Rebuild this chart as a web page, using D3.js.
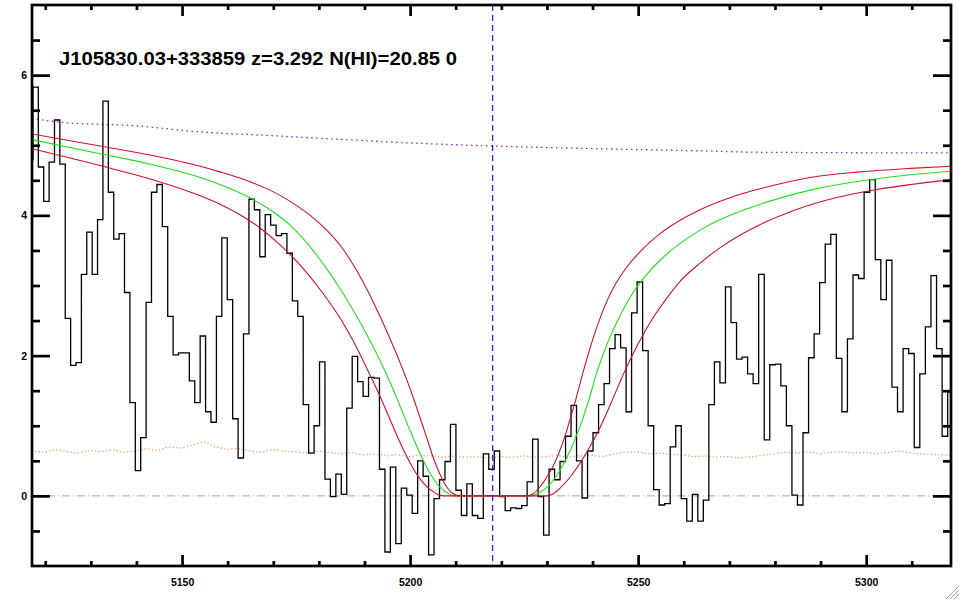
<!DOCTYPE html>
<html><head><meta charset="utf-8">
<script src="https://cdn.jsdelivr.net/npm/d3@7"></script>
<style>body{margin:0;background:#fff}svg{display:block}</style>
</head><body><svg id="c" width="960" height="600"></svg>
<script>
// ---------- data ----------
const titleText = "J105830.03+333859 z=3.292 N(HI)=20.85 0";
const xMajorTicks = [5150, 5200, 5250, 5300];
const xMinorTicks = [5120,5130,5140,5160,5170,5180,5190,5210,5220,5230,5240,5260,5270,5280,5290,5310];
const yMajorTicks = [0, 2, 4, 6];
const yMinorTicks = [-0.5,0.5,1,1.5,2.5,3,3.5,4.5,5,5.5,6.5];
const lyaWave = 5218.1;

// spectrum pixel wavelengths (Angstrom)
const wave = [5116.72,
5117.90,5119.08,5120.26,5121.44,5122.62,5123.80,5124.98,5126.16,5127.34,5128.52,
5129.70,5130.88,5132.06,5133.24,5134.43,5135.61,5136.79,5137.97,5139.16,5140.34,
5141.52,5142.71,5143.89,5145.08,5146.26,5147.45,5148.63,5149.82,5151.00,5152.19,
5153.38,5154.56,5155.75,5156.94,5158.13,5159.31,5160.50,5161.69,5162.88,5164.07,
5165.26,5166.45,5167.64,5168.83,5170.02,5171.21,5172.40,5173.59,5174.78,5175.97,
5177.16,5178.35,5179.55,5180.74,5181.93,5183.13,5184.32,5185.51,5186.71,5187.90,
5189.10,5190.29,5191.49,5192.69,5193.88,5195.08,5196.27,5197.47,5198.67,5199.86,
5201.06,5202.26,5203.46,5204.65,5205.85,5207.05,5208.25,5209.45,5210.65,5211.84,
5213.04,5214.24,5215.44,5216.65,5217.85,5219.05,5220.25,5221.45,5222.65,5223.86,
5225.06,5226.26,5227.46,5228.67,5229.87,5231.08,5232.28,5233.48,5234.69,5235.89,
5237.10,5238.31,5239.51,5240.72,5241.93,5243.13,5244.34,5245.55,5246.76,5247.96,
5249.17,5250.38,5251.59,5252.80,5254.01,5255.22,5256.43,5257.64,5258.85,5260.06,
5261.27,5262.48,5263.69,5264.90,5266.12,5267.33,5268.54,5269.75,5270.97,5272.18,
5273.39,5274.61,5275.82,5277.04,5278.25,5279.47,5280.68,5281.90,5283.11,5284.33,
5285.54,5286.76,5287.98,5289.19,5290.41,5291.63,5292.85,5294.06,5295.28,5296.50,
5297.72,5298.94,5300.16,5301.38,5302.60,5303.82,5305.04,5306.26,5307.48,5308.71,
5309.93,5311.15,5312.37,5313.59,5314.82,5316.04,5317.26,5318.49];

// spectrum flux
const flux = [4.80,
5.83,4.69,4.20,4.76,5.36,4.73,2.53,1.86,1.90,3.16,
3.76,3.16,3.94,5.63,4.33,3.66,3.74,2.90,1.33,0.36,
0.83,2.76,4.33,4.44,3.84,2.56,2.01,2.04,2.04,1.64,
1.33,2.28,1.20,1.05,2.56,3.68,2.80,1.10,0.54,2.31,
4.23,4.08,3.41,4.01,3.86,3.71,3.74,3.46,2.78,2.56,
1.30,0.61,1.00,1.91,0.24,-0.01,0.31,0.02,1.25,1.99,
1.63,1.42,1.69,1.68,0.38,-0.80,0.41,-0.68,0.11,0.01,
-0.25,0.50,0.28,-0.84,-0.04,0.23,0.49,1.02,0.08,-0.28,
0.17,-0.28,-0.32,0.60,0.38,0.64,-0.01,-0.21,-0.17,-0.18,
-0.14,0.20,0.81,-0.01,-0.56,0.38,0.23,0.49,0.85,1.29,
0.50,-0.03,0.64,0.90,1.30,1.60,2.10,2.30,2.11,1.20,
2.61,3.05,2.07,1.00,0.09,-0.13,-0.11,0.70,1.00,-0.04,
-0.36,0.02,-0.36,-0.06,1.30,1.91,1.61,2.98,2.47,1.95,
1.98,1.74,1.60,3.16,0.80,1.87,1.88,1.57,1.00,0.01,
-0.13,0.90,1.97,2.31,3.04,3.59,3.73,1.96,1.20,2.24,
3.15,3.10,4.33,4.51,3.37,2.80,3.36,1.55,1.20,2.10,
2.03,0.69,1.74,2.41,3.14,2.10,0.85,1.48];

// error array (orange dotted)
const errWave = [5117,5120,5122,5125,5127,5130,5132,5135,5137,5140,5142,5145,5147,5150,5152,5154,5155,5157,5160,5162,5165,5167,5170,5172,5175,5177,5180,5182,5185,5187,5190,5192,5195,5197,5200,5202,5205,5207,5210,5212,5215,5217,5220,5222,5225,5227,5230,5232,5235,5237,5240,5242,5245,5247,5250,5252,5255,5257,5260,5262,5265,5267,5270,5272,5275,5277,5280,5282,5285,5287,5290,5292,5295,5297,5300,5302,5305,5307,5310,5312,5315,5318.6];
const errFlux = [0.64,0.62,0.66,0.63,0.61,0.65,0.63,0.66,0.62,0.64,0.67,0.65,0.70,0.68,0.72,0.76,0.77,0.70,0.66,0.68,0.64,0.62,0.66,0.64,0.63,0.61,0.64,0.62,0.60,0.62,0.58,0.60,0.57,0.59,0.56,0.58,0.57,0.55,0.57,0.55,0.56,0.54,0.56,0.55,0.57,0.55,0.56,0.58,0.55,0.57,0.58,0.56,0.60,0.62,0.63,0.60,0.61,0.59,0.58,0.56,0.57,0.55,0.56,0.54,0.56,0.58,0.60,0.62,0.61,0.63,0.60,0.62,0.63,0.61,0.62,0.60,0.62,0.64,0.61,0.60,0.59,0.58];

// continuum (purple dotted)
const contWave = [5117.1,5124.7,5139.3,5154.0,5168.6,5183.2,5197.8,5217.5,5241.7,5263.6,5276.8,5318.6];
const contFlux = [5.38,5.32,5.28,5.19,5.14,5.09,5.04,4.99,4.95,4.92,4.90,4.89];

// model fit (green)
const fitWave = [5117.1,5132.0,5143.0,5154.0,5158.3,5164.9,5169.3,5173.7,5178.1,5181.7,5184.7,5187.6,5190.5,5193.4,5195.6,5197.1,5197.8,5200.0,5202.2,5204.4,5206.6,5208.8,5209.8,5226.3,5227.5,5230.0,5232.9,5235.8,5238.8,5240.9,5243.1,5246.1,5249.0,5251.9,5254.8,5259.2,5263.6,5268.0,5272.4,5276.8,5287.7,5298.7,5309.7,5318.6];
const fitFlux = [5.08,4.88,4.73,4.54,4.44,4.25,4.08,3.86,3.55,3.24,2.95,2.64,2.30,1.93,1.62,1.39,1.28,0.93,0.60,0.32,0.12,0.02,0.00,0.00,0.02,0.12,0.37,0.75,1.28,1.75,2.15,2.58,2.91,3.16,3.36,3.60,3.79,3.94,4.06,4.16,4.36,4.49,4.58,4.63];

// upper bound (red, narrower trough)
const hiWave = [5117.1,5132.0,5143.0,5154.0,5158.3,5164.9,5169.3,5173.7,5178.1,5181.7,5184.7,5187.6,5190.5,5193.4,5195.6,5197.8,5200.7,5202.2,5203.7,5205.1,5206.6,5208.1,5209.5,5211.0,5225.6,5227.0,5228.5,5230.0,5231.4,5233.6,5235.8,5238.0,5240.2,5242.4,5244.6,5247.5,5250.4,5254.8,5259.2,5263.6,5268.0,5272.4,5276.8,5287.7,5298.7,5309.7,5318.6];
const hiFlux = [5.16,4.99,4.86,4.70,4.62,4.48,4.36,4.20,4.00,3.79,3.57,3.29,2.95,2.56,2.24,1.90,1.40,1.11,0.82,0.54,0.30,0.12,0.03,0.00,0.00,0.03,0.13,0.27,0.43,0.78,1.25,1.78,2.26,2.66,2.97,3.26,3.48,3.74,3.93,4.08,4.20,4.30,4.38,4.54,4.62,4.67,4.70];

// lower bound (red, wider trough)
const loWave = [5117.1,5132.0,5143.0,5154.0,5158.3,5162.7,5167.1,5171.5,5175.9,5180.3,5184.7,5187.6,5190.5,5193.4,5195.6,5197.8,5200.0,5202.2,5204.4,5206.6,5207.5,5230.0,5231.4,5232.9,5235.8,5238.8,5241.7,5243.9,5246.8,5249.7,5252.6,5255.6,5259.2,5263.6,5268.0,5272.4,5276.8,5284.1,5291.4,5302.4,5309.7,5318.6];
const loFlux = [4.95,4.71,4.52,4.28,4.16,4.01,3.82,3.58,3.29,2.94,2.53,2.20,1.82,1.42,1.09,0.76,0.47,0.24,0.09,0.01,0.00,0.00,0.03,0.11,0.33,0.63,0.98,1.30,1.74,2.13,2.47,2.76,3.06,3.32,3.54,3.72,3.87,4.07,4.22,4.37,4.44,4.51];

// ---------- drawing ----------
const svg = d3.select('#c');
svg.append('rect').attr('width',960).attr('height',600).attr('fill','#fff');
const L=32, R=951, T=5, B=566;
const x = d3.scaleLinear().domain([5117.1, 5318.6]).range([L, R]);
const y = d3.scaleLinear().domain([-1, 7]).range([B, T]);

svg.append('clipPath').attr('id','plot').append('rect')
  .attr('x',L).attr('y',T).attr('width',R-L).attr('height',B-T);
const g = svg.append('g').attr('clip-path','url(#plot)');

const zip = (a,b)=>a.map((v,i)=>[v,b[i]]);
const smooth = d3.line().x(d=>x(d[0])).y(d=>y(d[1])).curve(d3.curveMonotoneX);
const straight = d3.line().x(d=>x(d[0])).y(d=>y(d[1]));

// zero line
g.append('line').attr('x1',L).attr('x2',R).attr('y1',y(0)).attr('y2',y(0))
  .attr('stroke','#a8a8a8').attr('stroke-width',1).attr('stroke-dasharray','8,3,1,3');

// error
g.append('path').attr('d',straight(zip(errWave,errFlux))).attr('fill','none')
  .attr('stroke','#e09a50').attr('stroke-width',1.3).attr('stroke-dasharray','1.2,2.4');

// continuum
g.append('path').attr('d',smooth(zip(contWave,contFlux))).attr('fill','none')
  .attr('stroke','#9428d0').attr('stroke-width',1.3).attr('stroke-dasharray','1.5,3.5');

// spectrum
g.append('path').attr('d',d3.line().x(d=>x(d[0])).y(d=>y(d[1])).curve(d3.curveStep)(zip(wave,flux)))
  .attr('fill','none').attr('stroke','#000').attr('stroke-width',1.3);

// fit + bounds
g.append('path').attr('d',smooth(zip(fitWave,fitFlux))).attr('fill','none')
  .attr('stroke','#22dd22').attr('stroke-width',1.1);
g.append('path').attr('d',smooth(zip(hiWave,hiFlux))).attr('fill','none')
  .attr('stroke','#cc1133').attr('stroke-width',1.1);
g.append('path').attr('d',smooth(zip(loWave,loFlux))).attr('fill','none')
  .attr('stroke','#cc1133').attr('stroke-width',1.1);

// Lya line
g.append('line').attr('x1',x(lyaWave)).attr('x2',x(lyaWave)).attr('y1',T).attr('y2',B)
  .attr('stroke','#1a1aff').attr('stroke-width',1.2).attr('stroke-dasharray','6,4');

// axes
const font = "'Liberation Sans', Arial, sans-serif";
function styleAxis(sel){
  sel.select('.domain').remove();
  sel.selectAll('.tick line').attr('stroke','#000').attr('stroke-width',2.7);
  sel.selectAll('.tick text').attr('fill','#000').attr('font-family',font)
     .attr('font-size','10.5px').attr('font-weight','bold');
}
svg.append('g').attr('transform',`translate(0,${B})`)
  .call(d3.axisBottom(x).tickValues(xMajorTicks).tickSize(-11).tickPadding(13).tickFormat(d3.format('d'))).call(styleAxis);
svg.append('g').attr('transform',`translate(0,${B})`)
  .call(d3.axisBottom(x).tickValues(xMinorTicks).tickSize(-5).tickFormat('')).call(styleAxis);
svg.append('g').attr('transform',`translate(0,${T})`)
  .call(d3.axisTop(x).tickValues(xMajorTicks).tickSize(-11).tickFormat('')).call(styleAxis);
svg.append('g').attr('transform',`translate(0,${T})`)
  .call(d3.axisTop(x).tickValues(xMinorTicks).tickSize(-5).tickFormat('')).call(styleAxis);
svg.append('g').attr('transform',`translate(${L},0)`)
  .call(d3.axisLeft(y).tickValues(yMajorTicks).tickSize(-18).tickPadding(5).tickFormat(d3.format('d'))).call(styleAxis);
svg.append('g').attr('transform',`translate(${L},0)`)
  .call(d3.axisLeft(y).tickValues(yMinorTicks).tickSize(-8).tickFormat('')).call(styleAxis);
svg.append('g').attr('transform',`translate(${R},0)`)
  .call(d3.axisRight(y).tickValues(yMajorTicks).tickSize(-18).tickFormat('')).call(styleAxis);
svg.append('g').attr('transform',`translate(${R},0)`)
  .call(d3.axisRight(y).tickValues(yMinorTicks).tickSize(-8).tickFormat('')).call(styleAxis);

// frame
svg.append('rect').attr('x',L).attr('y',T).attr('width',R-L).attr('height',B-T)
  .attr('fill','none').attr('stroke','#000').attr('stroke-width',2.7);

// title
svg.append('text').attr('x',59).attr('y',65).text(titleText)
  .attr('font-family',font).attr('font-size','19px').attr('font-weight','bold')
  .attr('textLength',398).attr('lengthAdjust','spacingAndGlyphs').attr('fill','#000');

// window resize grip
const grip = svg.append('g').attr('stroke','#aaa').attr('stroke-width',1);
[[946,599,959,586],[950,599,959,590],[954,599,959,594]].forEach(p=>
  grip.append('line').attr('x1',p[0]).attr('y1',p[1]).attr('x2',p[2]).attr('y2',p[3]));
</script></body></html>
